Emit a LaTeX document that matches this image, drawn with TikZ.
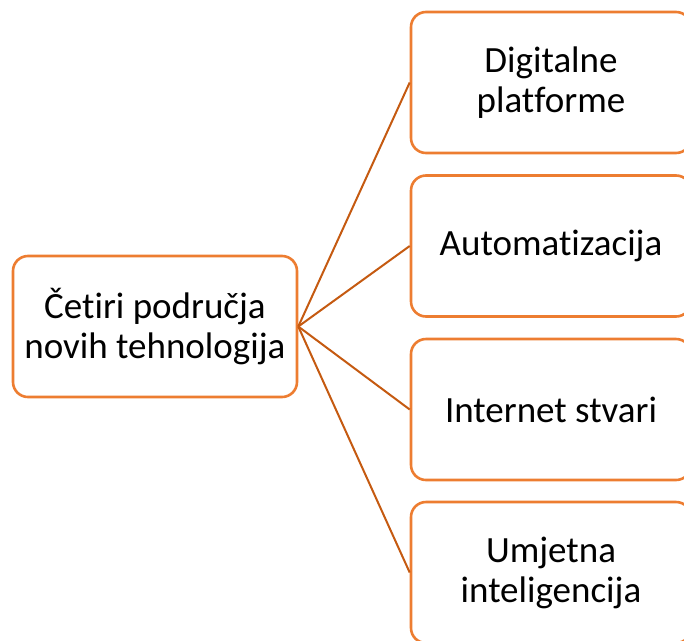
\documentclass[tikz,border=0pt]{standalone}
\usepackage{fontspec}
\setmainfont[Ligatures={NoCommon}]{Carlito}
\definecolor{boxline}{RGB}{237,125,49}
\definecolor{linkline}{RGB}{197,90,17}

\begin{document}
\begin{tikzpicture}[x=1pt,y=-1pt]

\tikzstyle{area}=[draw=boxline,line width=2.6pt,rounded corners=15pt,fill=white,align=center,inner sep=0pt,
  font=\fontsize{37}{40}\selectfont]
\tikzstyle{root}=[area,minimum width=284pt,minimum height=141pt]
\tikzstyle{topic}=[area,minimum width=280pt,minimum height=141pt]
\tikzstyle{link}=[draw=linkline,line width=2pt]

\useasboundingbox (0,0) rectangle (684,640);
\clip (0,0) rectangle (684,640);

\node[root](cetiri)at(155,326.5){Četiri područja\\novih tehnologija};
\node[topic](dig)at(551,82.5){Digitalne\\platforme};
\node[topic](auto)at(551,246){Automatizacija};
\node[topic](iot)at(551,409.5){Internet stvari};
\node[topic](ai)at(551,572.5){Umjetna\\inteligencija};

\draw[link](cetiri.east)--(dig.west);
\draw[link](cetiri.east)--(auto.west);
\draw[link](cetiri.east)--(iot.west);
\draw[link](cetiri.east)--(ai.west);

\end{tikzpicture}
\end{document}
